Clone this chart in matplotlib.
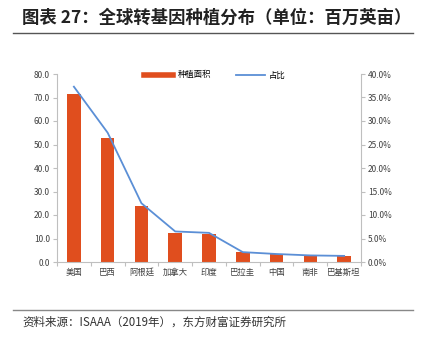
import matplotlib
matplotlib.use("Agg")
import matplotlib.pyplot as plt
from matplotlib.lines import Line2D
from matplotlib.ticker import FuncFormatter

plt.rcParams["font.family"] = ["Noto Sans CJK SC", "DejaVu Sans"]

countries = ["美国", "巴西", "阿根廷", "加拿大", "印度", "巴拉圭", "中国", "南非", "巴基斯坦"]
area = [71.5, 52.8, 24.0, 12.5, 11.9, 4.1, 3.2, 2.7, 2.5]
share = [0.373, 0.275, 0.125, 0.065, 0.062, 0.021, 0.017, 0.014, 0.013]

bar_color = "#E04E1E"
line_color = "#5B8FD6"
axis_color = "#BFBFBF"
tick_color = "#404040"

fig = plt.figure(figsize=(4.25, 3.4), dpi=100)
ax = fig.add_axes([57 / 425, 1 - 262 / 340, (361 - 57) / 425, (262 - 74) / 340])
ax2 = ax.twinx()

x = list(range(len(countries)))
ax.bar(x, area, width=0.4, color=bar_color, zorder=2, label="种植面积")
ax2.plot(x, share, color=line_color, lw=1.3, label="占比")

ax.set_xlim(-0.5, len(countries) - 0.5)
ax.set_ylim(0, 80)
ax.set_yticks(range(0, 81, 10))
ax.yaxis.set_major_formatter(FuncFormatter(lambda v, p: f"{v:.1f}"))
ax2.set_ylim(0, 0.40)
ax2.set_yticks([i * 0.05 for i in range(9)])
ax2.yaxis.set_major_formatter(FuncFormatter(lambda v, p: f"{v * 100:.1f}%"))

# category boundaries get the tick marks, names sit between them
ax.set_xticks([i - 0.5 for i in range(len(countries) + 1)], minor=False)
ax.set_xticklabels([])
ax.set_xticks(x, minor=True)
ax.set_xticklabels(countries, minor=True, fontsize=6, color=tick_color)
ax.tick_params(axis="x", which="major", length=3, color=axis_color)
ax.tick_params(axis="x", which="minor", length=0, pad=4)

for a in (ax, ax2):
    a.spines["top"].set_visible(False)
    for s in ("left", "right", "bottom"):
        a.spines[s].set_color(axis_color)
        a.spines[s].set_linewidth(0.8)
    a.tick_params(axis="y", labelsize=6, length=3, color=axis_color, labelcolor=tick_color, pad=2)
ax.spines["right"].set_visible(False)
ax2.spines["left"].set_visible(False)
ax2.spines["bottom"].set_visible(False)

handles = [
    Line2D([], [], color=bar_color, lw=4),
    Line2D([], [], color=line_color, lw=1.3),
]
fig.legend(handles, ["种植面积", "占比"], loc="center", bbox_to_anchor=(215 / 425, 1 - 75 / 340),
           ncol=2, frameon=False, fontsize=6, handlelength=3.5, columnspacing=3, handletextpad=0.5)

fig.text(22 / 425, 1 - 18 / 340, "图表 27：全球转基因种植分布（单位：百万英亩）",
         fontsize=12.5, fontweight="bold", va="center", ha="left", color="#222222")
fig.add_artist(Line2D([13 / 425, 413 / 425], [1 - 33 / 340, 1 - 33 / 340], color="#555555", lw=1))
fig.add_artist(Line2D([13 / 425, 413 / 425], [1 - 310 / 340, 1 - 310 / 340], color="#888888", lw=1))
fig.text(22 / 425, 1 - 322 / 340, "资料来源：ISAAA（2019年），东方财富证券研究所",
         fontsize=8.3, va="center", ha="left", color="#333333")

fig.savefig("out.png", dpi=100)
